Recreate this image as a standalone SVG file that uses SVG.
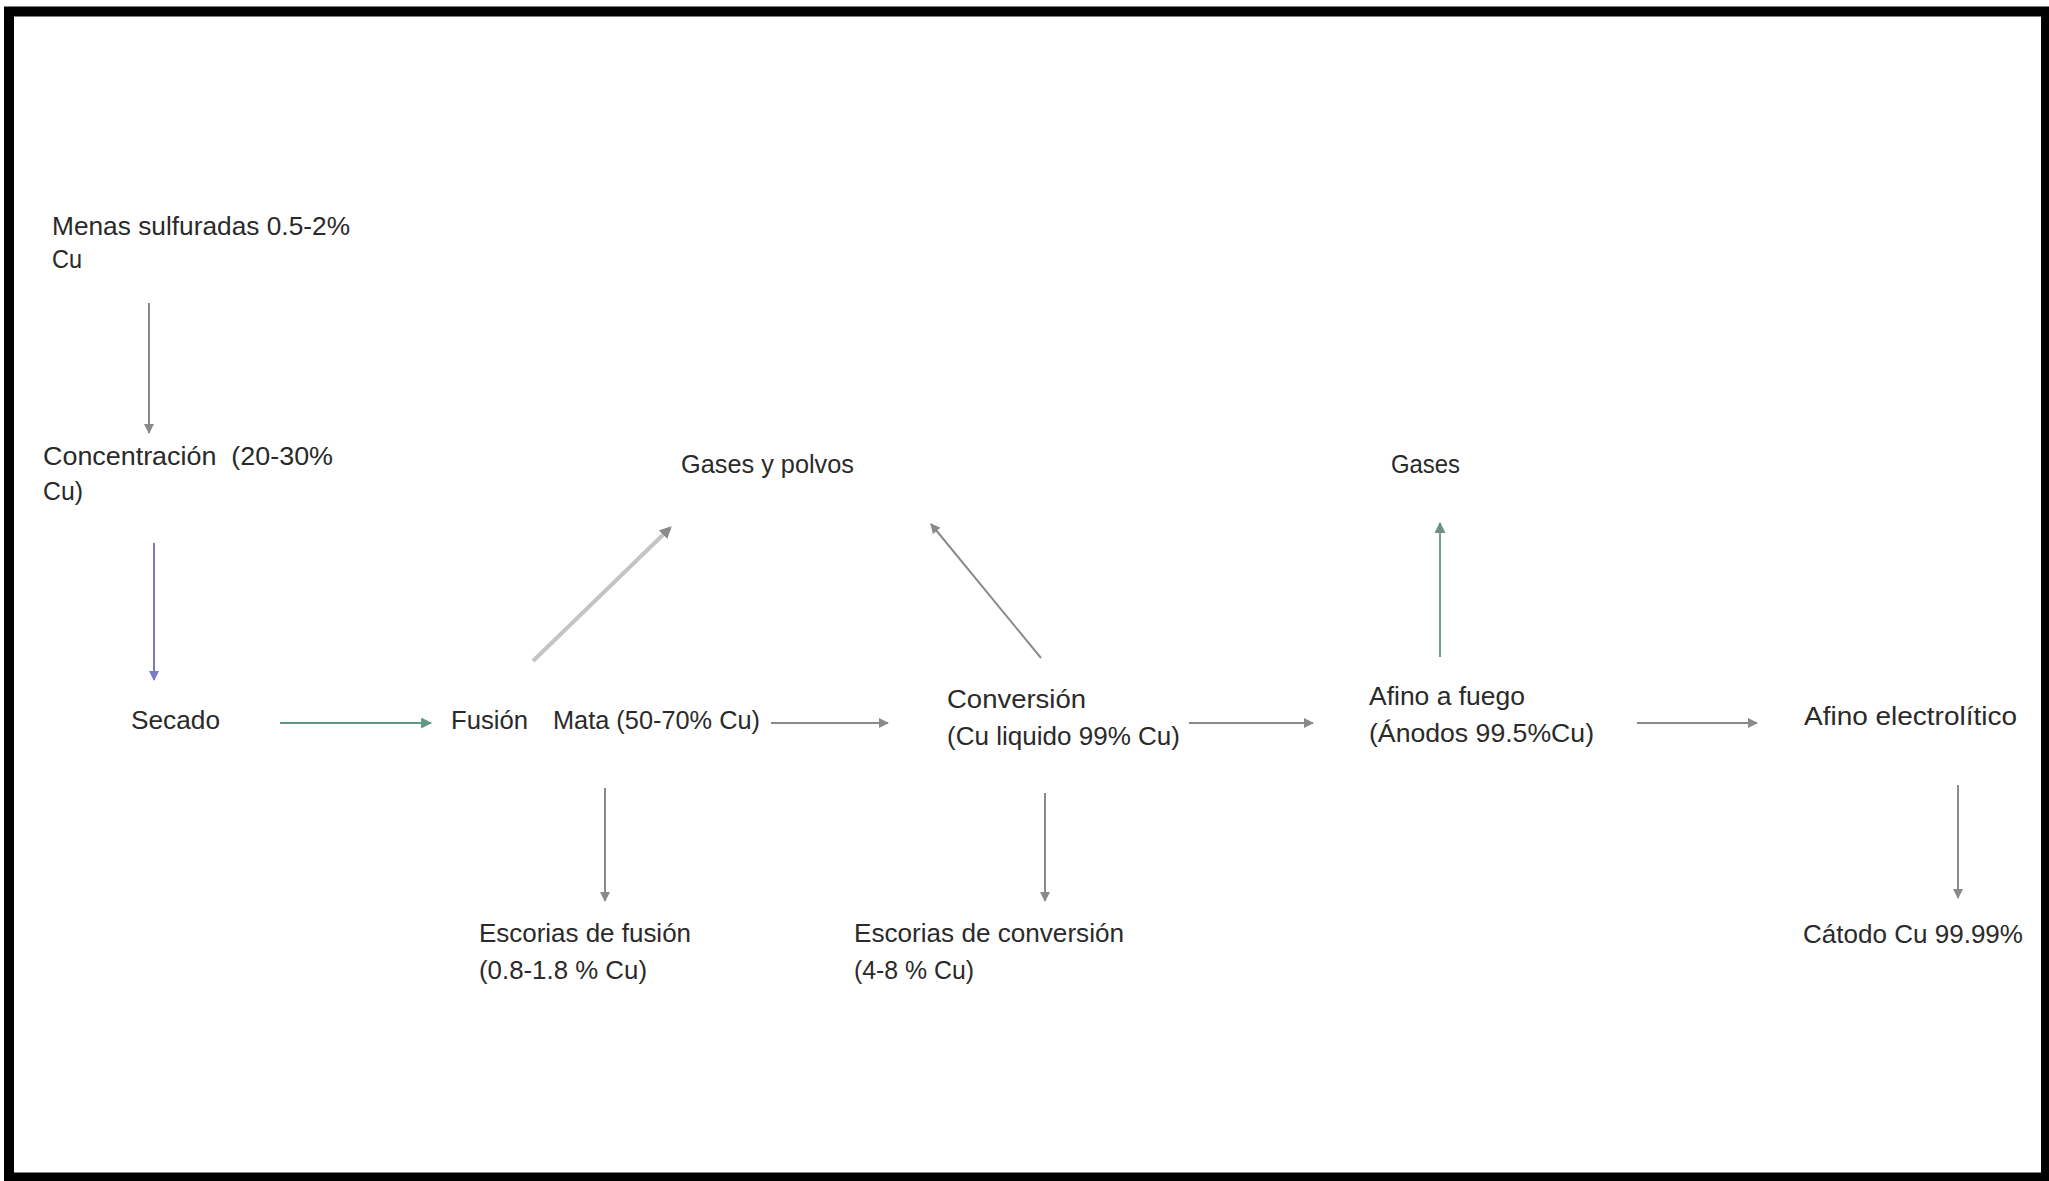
<svg xmlns="http://www.w3.org/2000/svg" width="2049" height="1181" viewBox="0 0 2049 1181">
<style>
text{font-family:"Liberation Sans","Open Sans",Arial,sans-serif;font-size:25px;fill:#2a2a2a}
.ln{fill:none;stroke-width:2}
.gray{stroke:#8a8a8a}
.blue{stroke:#7a78c8}
.teal{stroke:#5f9886}
.tealg{stroke:#7a9a92}
.light{stroke:#c4c4c4;stroke-width:4}
</style>
<defs>
<marker id="ag" viewBox="0 0 10 10" refX="9" refY="5" markerWidth="10" markerHeight="10" markerUnits="userSpaceOnUse" orient="auto"><path d="M0,0 L10,5 L0,10 z" fill="#8a8a8a"/></marker>
<marker id="ab" viewBox="0 0 10 10" refX="9" refY="5" markerWidth="10" markerHeight="10" markerUnits="userSpaceOnUse" orient="auto"><path d="M0,0 L10,5 L0,10 z" fill="#7a78c8"/></marker>
<marker id="at" viewBox="0 0 10 10" refX="9" refY="5" markerWidth="11" markerHeight="11" markerUnits="userSpaceOnUse" orient="auto"><path d="M0,0 L10,5 L0,10 z" fill="#5f9886"/></marker>
<marker id="atg" viewBox="0 0 10 10" refX="9" refY="5" markerWidth="11" markerHeight="11" markerUnits="userSpaceOnUse" orient="auto"><path d="M0,0 L10,5 L0,10 z" fill="#6f8f86"/></marker>
<marker id="al" viewBox="0 0 10 10" refX="8" refY="5" markerWidth="12" markerHeight="12" markerUnits="userSpaceOnUse" orient="auto"><path d="M0,0 L10,5 L0,10 z" fill="#8a8a8a"/></marker>
</defs>
<rect x="0" y="0" width="2049" height="1181" fill="#ffffff"/>
<rect x="9" y="11.5" width="2037" height="1166" fill="none" stroke="#000" stroke-width="10"/>

<g id="connectors">
<line class="ln gray" x1="149" y1="303" x2="149" y2="433" marker-end="url(#ag)"/>
<line class="ln blue" x1="154" y1="543" x2="154" y2="680" marker-end="url(#ab)"/>
<line class="ln teal" x1="280" y1="723" x2="431" y2="723" marker-end="url(#at)"/>
<line class="ln light" x1="533" y1="661" x2="670" y2="528" marker-end="url(#al)"/>
<line class="ln gray" x1="1041" y1="658" x2="931" y2="524" marker-end="url(#ag)"/>
<line class="ln gray" x1="771" y1="723" x2="888" y2="723" marker-end="url(#ag)"/>
<line class="ln gray" x1="1189" y1="723" x2="1313" y2="723" marker-end="url(#ag)"/>
<line class="ln tealg" x1="1440" y1="657" x2="1440" y2="523" marker-end="url(#atg)"/>
<line class="ln gray" x1="1637" y1="723" x2="1757" y2="723" marker-end="url(#ag)"/>
<line class="ln gray" x1="605" y1="788" x2="605" y2="901" marker-end="url(#ag)"/>
<line class="ln gray" x1="1045" y1="793" x2="1045" y2="901" marker-end="url(#ag)"/>
<line class="ln gray" x1="1958" y1="785" x2="1958" y2="898" marker-end="url(#ag)"/>
</g>

<g id="menas"><text x="52" y="235" textLength="298" lengthAdjust="spacingAndGlyphs">Menas sulfuradas 0.5-2%</text><text x="52" y="268" textLength="30" lengthAdjust="spacingAndGlyphs">Cu</text></g>
<g id="concentracion"><text x="43" y="465" textLength="290" lengthAdjust="spacingAndGlyphs">Concentración&#160; (20-30%</text><text x="43" y="500" textLength="40" lengthAdjust="spacingAndGlyphs">Cu)</text></g>
<g id="secado"><text x="131" y="729" textLength="89" lengthAdjust="spacingAndGlyphs">Secado</text></g>
<g id="fusion"><text x="451" y="729" textLength="77" lengthAdjust="spacingAndGlyphs">Fusión</text></g>
<g id="mata"><text x="553" y="729" textLength="207" lengthAdjust="spacingAndGlyphs">Mata (50-70% Cu)</text></g>
<g id="gases-polvos"><text x="681" y="473" textLength="173" lengthAdjust="spacingAndGlyphs">Gases y polvos</text></g>
<g id="conversion"><text x="947" y="708" textLength="139" lengthAdjust="spacingAndGlyphs">Conversión</text><text x="947" y="745" textLength="233" lengthAdjust="spacingAndGlyphs">(Cu liquido 99% Cu)</text></g>
<g id="gases"><text x="1391" y="473" textLength="69" lengthAdjust="spacingAndGlyphs">Gases</text></g>
<g id="afino-fuego"><text x="1369" y="705" textLength="156" lengthAdjust="spacingAndGlyphs">Afino a fuego</text><text x="1369" y="742" textLength="225" lengthAdjust="spacingAndGlyphs">(Ánodos 99.5%Cu)</text></g>
<g id="afino-electrolitico"><text x="1804" y="725" textLength="213" lengthAdjust="spacingAndGlyphs">Afino electrolítico</text></g>
<g id="escorias-fusion"><text x="479" y="942" textLength="212" lengthAdjust="spacingAndGlyphs">Escorias de fusión</text><text x="479" y="979" textLength="168" lengthAdjust="spacingAndGlyphs">(0.8-1.8 % Cu)</text></g>
<g id="escorias-conversion"><text x="854" y="942" textLength="270" lengthAdjust="spacingAndGlyphs">Escorias de conversión</text><text x="854" y="979" textLength="120" lengthAdjust="spacingAndGlyphs">(4-8 % Cu)</text></g>
<g id="catodo"><text x="1803" y="943" textLength="220" lengthAdjust="spacingAndGlyphs">Cátodo Cu 99.99%</text></g>
</svg>
